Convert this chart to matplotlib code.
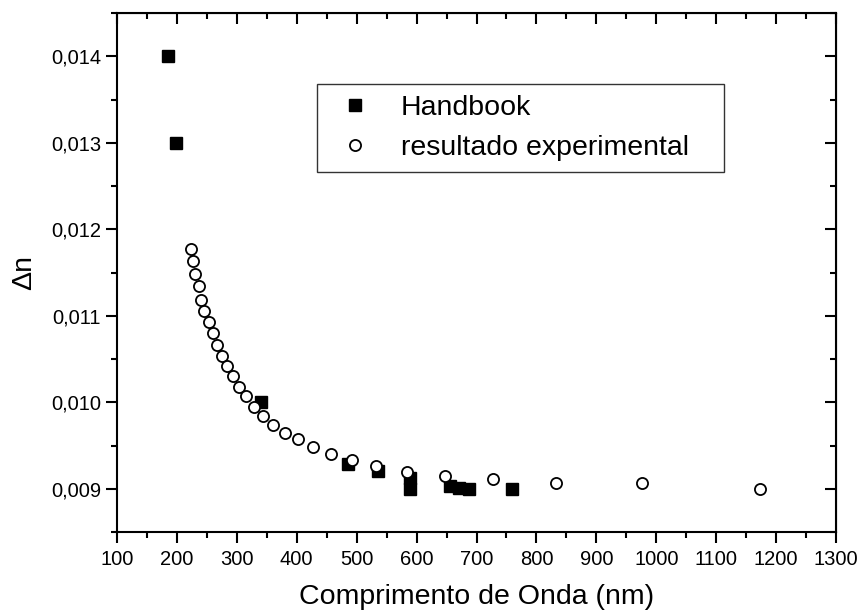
import numpy as np
import matplotlib
matplotlib.use("Agg")
import matplotlib.pyplot as plt
from matplotlib.ticker import MultipleLocator, FuncFormatter

plt.rcParams['font.family'] = ['Liberation Sans', 'DejaVu Sans']

# Handbook values (squares)
hb_wl = [185, 198, 340, 486, 535, 589, 589, 656, 670, 687, 760]
hb_dn = [0.0140, 0.0130, 0.0100, 0.00929, 0.00920, 0.00913, 0.00900,
         0.00903, 0.00901, 0.00900, 0.00900]

# experimental result (open circles)
exp_wl = [223, 227, 231, 237, 241, 246, 253, 260, 267, 275, 284, 294, 303,
          316, 329, 344, 361, 380, 402, 427, 457, 492, 533, 584, 647,
          728, 833, 976, 1173]
exp_dn = [0.01177, 0.01163, 0.01148, 0.01134, 0.01118, 0.01106, 0.01093,
          0.01080, 0.01066, 0.01054, 0.01042, 0.01030, 0.01018, 0.01007,
          0.00995, 0.00984, 0.00974, 0.00965, 0.00957, 0.00948, 0.00940,
          0.00933, 0.00926, 0.00919, 0.00915, 0.00911, 0.00907, 0.00907,
          0.00900]

fig = plt.figure(figsize=(8.64, 6.14), dpi=100)
ax = fig.add_axes([117/864, 1-532/614, (836-117)/864, (532-13)/614])

ax.plot(hb_wl, hb_dn, linestyle='none', marker='s', markersize=8,
        color='black', label='Handbook')
ax.plot(exp_wl, exp_dn, linestyle='none', marker='o', markersize=8,
        markerfacecolor='white', markeredgecolor='black', markeredgewidth=1.3,
        label='resultado experimental')

ax.set_xlim(100, 1300)
ax.set_ylim(0.0085, 0.0145)
ax.xaxis.set_major_locator(MultipleLocator(100))
ax.xaxis.set_minor_locator(MultipleLocator(50))
ax.yaxis.set_major_locator(MultipleLocator(0.001))
ax.yaxis.set_minor_locator(MultipleLocator(0.0005))
ax.yaxis.set_major_formatter(FuncFormatter(lambda v, p: ('%.3f' % v).replace('.', ',')))

for s in ax.spines.values():
    s.set_linewidth(1.5)
ax.tick_params(which='both', direction='out', width=1.5, labelsize=14.5,
               top=False, right=False)
ax.tick_params(which='major', length=8)
ax.tick_params(which='minor', length=4.5)
ax.tick_params(axis='x', pad=5)

# mirrored ticks pointing inward on top / right
ax2 = ax.secondary_xaxis('top')
ax2.xaxis.set_major_locator(MultipleLocator(100))
ax2.xaxis.set_minor_locator(MultipleLocator(50))
ax2.tick_params(which='both', direction='in', width=1.5, labeltop=False)
ax2.tick_params(which='major', length=8)
ax2.tick_params(which='minor', length=4.5)
ay2 = ax.secondary_yaxis('right')
ay2.yaxis.set_major_locator(MultipleLocator(0.001))
ay2.yaxis.set_minor_locator(MultipleLocator(0.0005))
ay2.tick_params(which='both', direction='in', width=1.5, labelright=False)
ay2.tick_params(which='major', length=8)
ay2.tick_params(which='minor', length=4.5)

ax.set_xlabel('Comprimento de Onda (nm)', fontsize=20.5, labelpad=11)
ax.set_ylabel('\u0394n', fontsize=20.5, labelpad=10)

x0 = (317-117)/719
y1 = 1-(84-13)/519
y0 = 1-(170-13)/519
w = (724-317)/719
leg = ax.legend(loc='upper left', bbox_to_anchor=(x0, y0, w, y1-y0), mode='expand',
                fontsize=20.5, frameon=True, fancybox=False, edgecolor='black',
                borderaxespad=0, borderpad=0.4, handletextpad=0.65,
                labelspacing=0.47, handlelength=1.9)
leg.get_frame().set_linewidth(1.0)

fig.savefig('out.png', dpi=100)
